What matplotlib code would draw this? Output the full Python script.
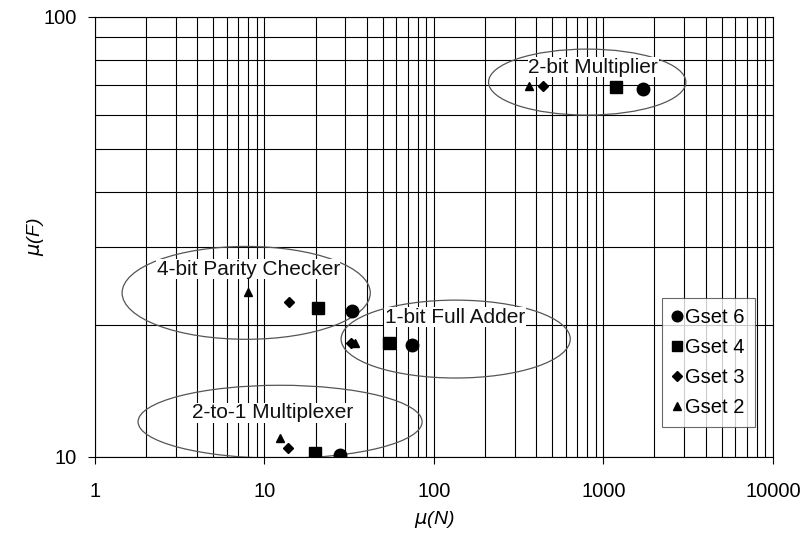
"""Log-log scatter of mu(F) vs mu(N) per circuit and gate set -> out.png."""
import numpy as np
import matplotlib
matplotlib.use("Agg")
import matplotlib.pyplot as plt
from matplotlib.patches import Ellipse
from matplotlib.ticker import LogLocator, FixedLocator, NullFormatter

plt.rcParams["font.family"] = ["Liberation Sans", "DejaVu Sans"]

# values, one list per gate set
# circuit order: 2-bit Multiplier, 4-bit Parity Checker, 1-bit Full Adder, 2-to-1 Multiplexer
gset6_n = [1710, 32.8, 74.2, 27.9]
gset6_f = [68.6, 21.5, 18.0, 10.1]
gset4_n = [1185, 20.7, 54.3, 19.9]
gset4_f = [69.3, 21.8, 18.2, 10.2]
gset3_n = [440, 13.9, 32.4, 13.8]
gset3_f = [69.7, 22.5, 18.2, 10.5]
gset2_n = [363, 8.0, 34.2, 12.3]
gset2_f = [69.7, 23.7, 18.2, 11.05]

series = [
    ("Gset 6", gset6_n, gset6_f, "o", 9),
    ("Gset 4", gset4_n, gset4_f, "s", 8),
    ("Gset 3", gset3_n, gset3_f, "D", 5.5),
    ("Gset 2", gset2_n, gset2_f, "^", 6),
]

# circuit groups: label, ellipse centre / size and label position (axes fraction)
circuits = ["2-bit Multiplier", "4-bit Parity Checker", "1-bit Full Adder", "2-to-1 Multiplexer"]
ell_xy = [(0.726, 0.852), (0.223, 0.373), (0.532, 0.268), (0.273, 0.080)]
ell_wh = [(0.291, 0.150), (0.366, 0.211), (0.338, 0.177), (0.419, 0.166)]
label_xy = [(0.735, 0.886), (0.226, 0.427), (0.531, 0.318), (0.262, 0.100)]

fig = plt.figure(figsize=(8.01, 5.34), dpi=100)
ax = fig.add_axes([0.1186, 0.1442, 0.8464, 0.8240])
ax.set_xscale("log")
ax.set_yscale("log")
ax.set_xlim(1, 10000)
ax.set_ylim(10, 100)

ax.xaxis.set_major_locator(FixedLocator([1, 10, 100, 1000, 10000]))
ax.xaxis.set_minor_locator(LogLocator(base=10, subs=np.arange(2, 10)))
ax.yaxis.set_major_locator(FixedLocator([10, 100]))
ax.yaxis.set_minor_locator(LogLocator(base=10, subs=np.arange(2, 10)))
ax.set_xticklabels(["1", "10", "100", "1000", "10000"])
ax.set_yticklabels(["10", "100"])
ax.xaxis.set_minor_formatter(NullFormatter())
ax.yaxis.set_minor_formatter(NullFormatter())
ax.tick_params(which="major", direction="out", length=5, width=0.8, labelsize=14.5)
ax.tick_params(axis="x", which="major", pad=13)
ax.tick_params(axis="y", which="major", pad=8)
ax.tick_params(which="minor", length=0)
ax.grid(True, which="both", color="black", lw=0.8)
ax.set_axisbelow(True)
for sp in ax.spines.values():
    sp.set_color("black")
    sp.set_linewidth(0.8)

for name, xs, ys, mk, ms in series:
    ax.plot(xs, ys, ls="none", marker=mk, ms=ms, color="black", label=name, zorder=4)

for name, (cx, cy), (w, h), (tx, ty) in zip(circuits, ell_xy, ell_wh, label_xy):
    ax.add_patch(Ellipse((cx, cy), w, h, transform=ax.transAxes, fill=False,
                         edgecolor="#555555", lw=0.9, zorder=3))
    ax.text(tx, ty, name, transform=ax.transAxes, ha="center", va="center",
            fontsize=15, color="#111111", zorder=5,
            bbox=dict(facecolor="white", edgecolor="none", pad=0.5))

ax.set_xlabel(r"$\mu$(N)", fontsize=14, style="italic", labelpad=6)
ax.set_ylabel(r"$\mu$(F)", fontsize=14, style="italic", labelpad=-2)

leg = ax.legend(loc="lower right", bbox_to_anchor=(0.973, 0.068), fontsize=14.5,
                frameon=True, fancybox=False, edgecolor="#444444",
                handlelength=0.5, handletextpad=0.15, labelspacing=0.55,
                borderpad=0.5, borderaxespad=0, markerscale=0.85)
leg.get_frame().set_linewidth(0.8)
leg.set_zorder(6)

fig.savefig("out.png", dpi=100)
